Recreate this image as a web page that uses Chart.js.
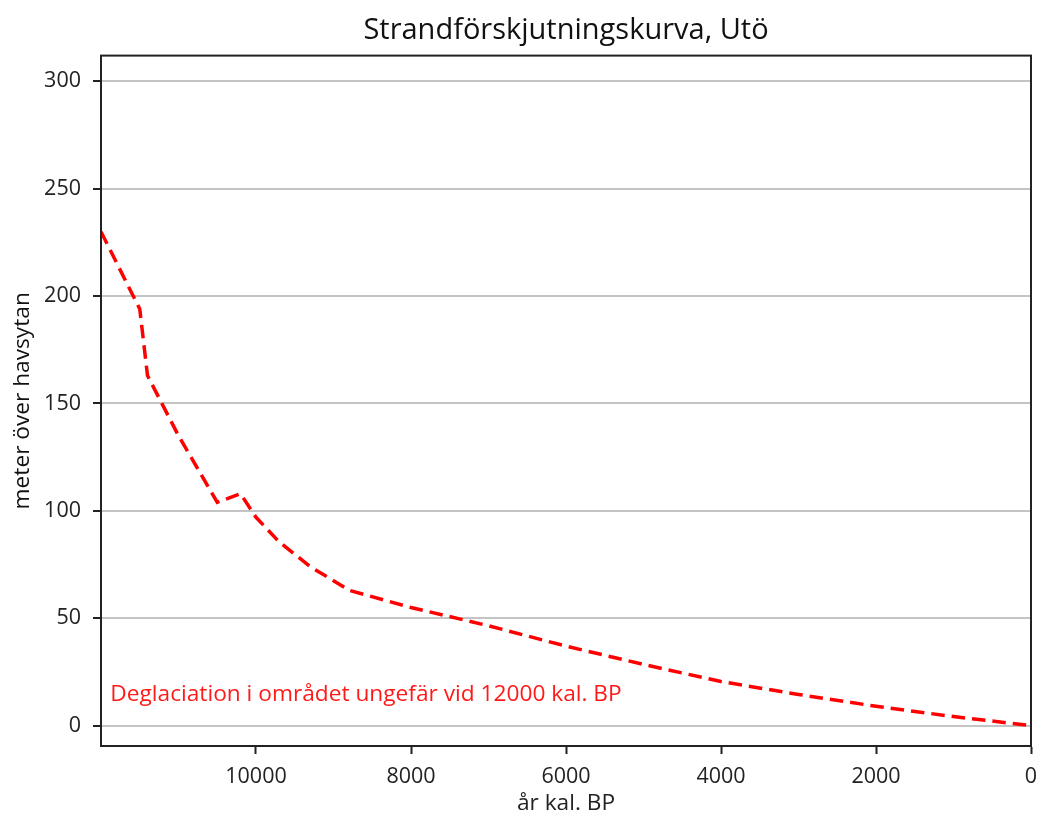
<!DOCTYPE html>
<html>
<head>
<meta charset="utf-8">
<script src="https://cdn.jsdelivr.net/npm/chart.js@4.4.1/dist/chart.umd.min.js"></script>
<style>
  html, body { margin: 0; padding: 0; background: #fff; }
  #wrap { width: 1037px; height: 817px; position: relative; }
</style>
</head>
<body>
<div id="wrap"><canvas id="c"></canvas></div>
<script>
// ---- data ----
const years   = [12000, 11500, 11400, 11000, 10500, 10200, 10000, 9700, 9300, 9000, 8800, 8000, 7000, 6000, 5000, 4000, 3000, 2000, 1000, 0];
const heights = [230,   194,   163,   135,   104,   108,   97,    85.5, 74,   67.5, 63,   55,   46.5, 37,   28.5, 20.5, 14.5, 9,    4.2,  0];
const xTicks  = [0, 2000, 4000, 6000, 8000, 10000];
const yTicks  = [0, 50, 100, 150, 200, 250, 300];
const titleText = 'Strandförskjutningskurva, Utö';
const xLabel = 'år kal. BP';
const yLabel = 'meter över havsytan';
const noteText = 'Deglaciation i området ungefär vid 12000 kal. BP';
const noteAt = { x: 11880, y: 14.3 };

const FONT = "'Open Sans', 'Noto Sans', sans-serif";

const framePlugin = {
  id: 'frame',
  afterDraw(chart) {
    const { ctx, chartArea: a, scales } = chart;
    ctx.save();
    // annotation text
    ctx.fillStyle = '#ff1a1a';
    ctx.font = "22.7px " + FONT;
    ctx.textAlign = 'left';
    ctx.textBaseline = 'middle';
    ctx.fillText(noteText, scales.x.getPixelForValue(noteAt.x), scales.y.getPixelForValue(noteAt.y));
    // frame (all four spines)
    ctx.strokeStyle = '#222';
    ctx.lineWidth = 2;
    ctx.strokeRect(a.left, a.top, a.right - a.left, a.bottom - a.top);
    ctx.restore();
  }
};

new Chart(document.getElementById('c'), {
  type: 'line',
  data: {
    datasets: [{
      data: years.map((y, i) => ({ x: y, y: heights[i] })),
      borderColor: '#ff0000',
      borderWidth: 3.5,
      borderDash: [13.5, 7],
      pointRadius: 0,
      tension: 0,
      fill: false
    }]
  },
  options: {
    responsive: true,
    maintainAspectRatio: false,
    animation: false,
    layout: { padding: { left: 0, right: 6, top: 0, bottom: 0 } },
    plugins: {
      legend: { display: false },
      tooltip: { enabled: false },
      title: {
        display: true,
        fullSize: false,
        text: titleText,
        color: '#111',
        font: { family: FONT, size: 29, weight: 'normal' },
        padding: { top: 13.5, bottom: 7.3 }
      }
    },
    scales: {
      x: {
        type: 'linear',
        reverse: true,
        min: 0,
        max: 12000,
        afterBuildTicks(s) { s.ticks = xTicks.map(v => ({ value: v })); },
        afterFit(s) { s.height = 71; },
        grid: { drawOnChartArea: false, drawTicks: true, tickLength: 8, tickColor: '#222', tickWidth: 2 },
        border: { display: true, color: '#222', width: 2 },
        ticks: { color: '#222', font: { family: FONT, size: 21.5 }, padding: 10, maxRotation: 0, autoSkip: false,
                 callback: (v) => String(v) },
        title: { display: true, text: xLabel, color: '#222', font: { family: FONT, size: 22.7 }, padding: { top: 0, bottom: 0 } }
      },
      y: {
        type: 'linear',
        min: -9.5,
        max: 312,
        afterBuildTicks(s) { s.ticks = yTicks.map(v => ({ value: v })); },
        afterFit(s) { s.width = 101; },
        grid: { color: '#c4c4c4', lineWidth: 2, drawTicks: true, tickLength: 8, tickColor: '#222', tickWidth: 2 },
        border: { display: true, color: '#222', width: 2 },
        ticks: { color: '#222', font: { family: FONT, size: 21.5 }, padding: 12, callback: (v) => String(v) },
        title: { display: true, text: yLabel, color: '#111', font: { family: FONT, size: 22.7 }, padding: { top: 9, bottom: 4 } }
      }
    }
  },
  plugins: [framePlugin]
});
</script>
</body>
</html>
